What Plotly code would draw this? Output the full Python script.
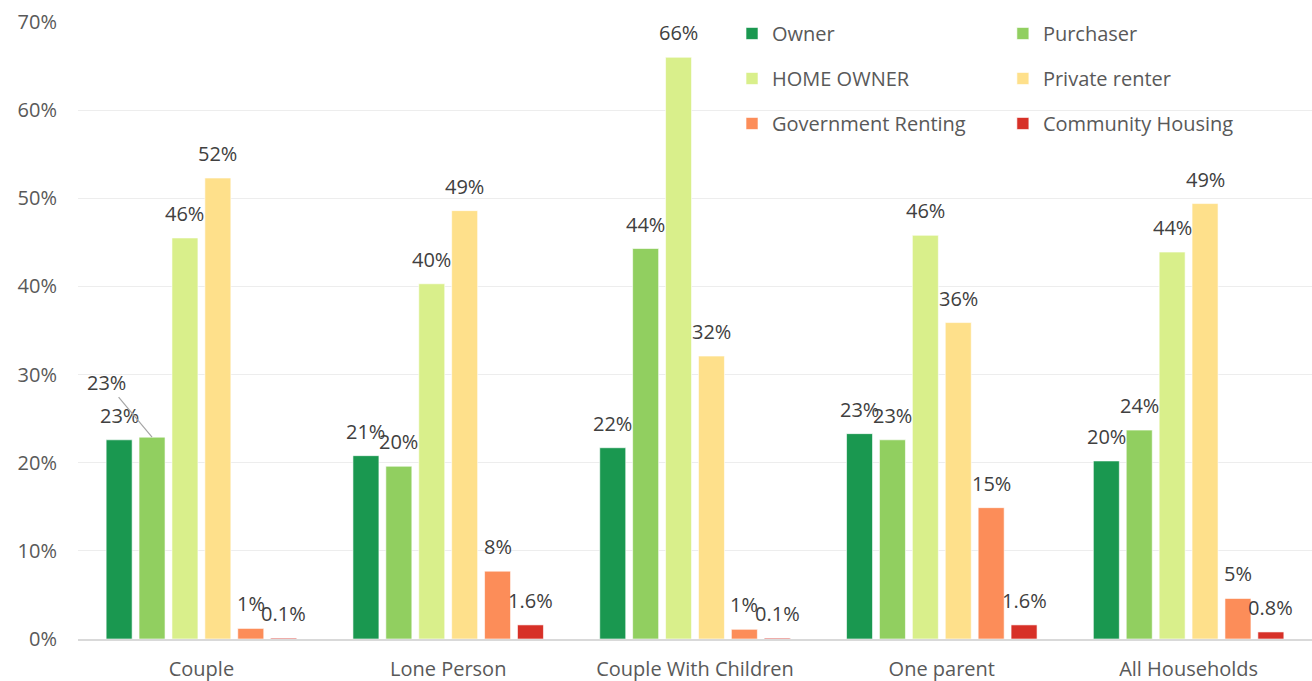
import plotly.graph_objects as go

categories = ["Couple", "Lone Person", "Couple With Children", "One parent", "All Households"]
series_names = ["Owner", "Purchaser", "HOME OWNER", "Private renter", "Government Renting", "Community Housing"]

owner = [22.6, 20.8, 21.7, 23.3, 20.2]
purchaser = [22.9, 19.6, 44.3, 22.6, 23.7]
home_owner = [45.5, 40.3, 66.0, 45.8, 43.9]
private_renter = [52.3, 48.6, 32.1, 35.9, 49.4]
government_renting = [1.2, 7.7, 1.1, 14.9, 4.6]
community_housing = [0.1, 1.6, 0.1, 1.6, 0.8]

values = [owner, purchaser, home_owner, private_renter, government_renting, community_housing]
label_formats = ["{:.0f}%", "{:.0f}%", "{:.0f}%", "{:.0f}%", "{:.0f}%", "{:.1f}%"]
colors = ["#1a9850", "#91cf60", "#d9ef8b", "#fee08b", "#fc8d59", "#d73027"]
legend_ids = ["legend", "legend2", "legend", "legend2", "legend", "legend2"]

y_ticks = [0, 10, 20, 30, 40, 50, 60, 70]
y_tick_labels = ["0%", "10%", "20%", "30%", "40%", "50%", "60%", "70%"]

BARGAP = 0.2
FONT = "Open Sans"
LABEL_COLOR = "#404040"
AXIS_TEXT = "#595959"

fig = go.Figure()
for i, name in enumerate(series_names):
    fig.add_trace(go.Bar(
        name=name,
        x=categories,
        y=values[i],
        marker=dict(color=colors[i], line=dict(color="rgba(255,255,255,0.6)", width=1)),
        legend=legend_ids[i],
        legendgroup=name,
        hoverinfo="skip",
    ))

# data labels, placed through the category axis (index positions) + bar slot offsets
n = len(series_names)
slot = (1 - BARGAP) / n
annotations = []
for i in range(n):
    for j, cat in enumerate(categories):
        v = values[i][j]
        xpos = j + (i - (n - 1) / 2) * slot
        txt = label_formats[i].format(v)
        if i == 1 and j == 0:
            annotations.append(dict(
                x=xpos, y=v, xref="x", yref="y", text=txt,
                showarrow=True, arrowhead=0, arrowwidth=1.2, arrowcolor="#A6A6A6",
                ax=-46, ay=-55, font=dict(family=FONT, size=20, color=LABEL_COLOR),
            ))
        else:
            annotations.append(dict(
                x=xpos, y=v, xref="x", yref="y", text=txt, showarrow=False,
                yanchor="bottom", yshift=9,
                font=dict(family=FONT, size=20, color=LABEL_COLOR),
            ))

legend_common = dict(
    yanchor="top", xanchor="left", orientation="v",
    tracegroupgap=16, traceorder="grouped",
    font=dict(family=FONT, size=20, color=AXIS_TEXT),
    bgcolor="rgba(255,255,255,0)",
)

fig.update_layout(
    width=1312, height=681,
    margin=dict(l=78, r=0, t=22, b=42),
    paper_bgcolor="white", plot_bgcolor="white",
    barmode="group", bargap=BARGAP, bargroupgap=0.21,
    font=dict(family=FONT, size=20, color=AXIS_TEXT),
    annotations=annotations,
    legend=dict(x=0.5300, y=1.013, **legend_common),
    legend2=dict(x=0.7495, y=1.013, **legend_common),
    showlegend=True,
)
fig.update_xaxes(
    showline=True, linecolor="#D9D9D9", linewidth=1.5,
    showgrid=False, ticks="", ticklabelstandoff=11,
    tickfont=dict(family=FONT, size=20, color=AXIS_TEXT),
)
fig.update_yaxes(
    range=[0, 70], tickmode="array", tickvals=y_ticks, ticktext=y_tick_labels,
    showgrid=True, gridcolor="#EDEDED", gridwidth=1.3,
    zeroline=False, showline=False, ticks="", ticklabelstandoff=20,
    tickfont=dict(family=FONT, size=20, color=AXIS_TEXT),
)

fig.write_html(
    "out.html",
    config={"displayModeBar": False},
    post_script="document.body.style.margin='0px';document.body.style.overflow='hidden';",
)
